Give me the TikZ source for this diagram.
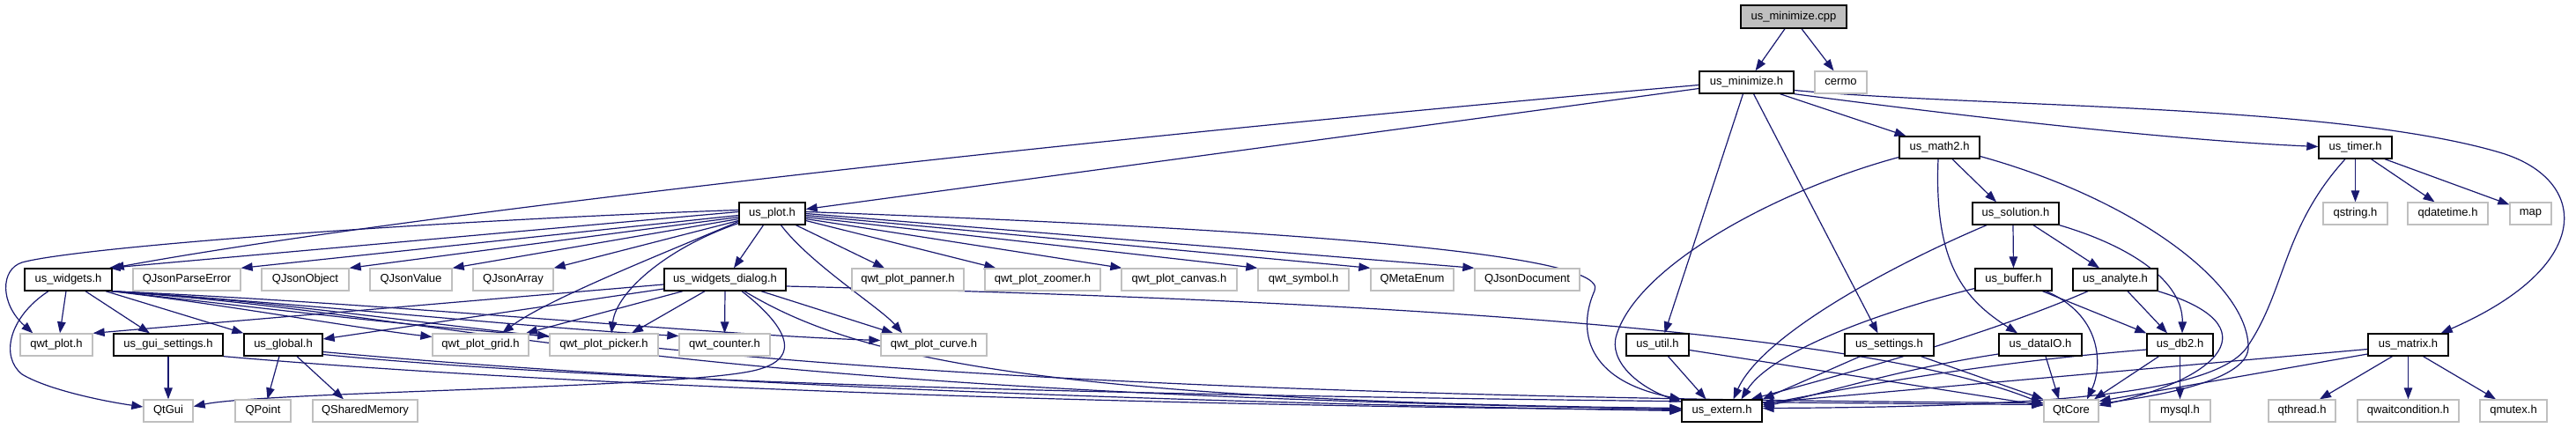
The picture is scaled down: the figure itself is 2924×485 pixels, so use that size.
\documentclass[tikz,border=0pt]{standalone}
\usepackage{fontspec}
\setmainfont{Liberation Sans}
\usetikzlibrary{arrows.meta}
\definecolor{edgec}{HTML}{191970}
\definecolor{grayb}{HTML}{BFBFBF}
\pgfdeclarelayer{bg}
\pgfsetlayers{bg,main}
\begin{document}
\begin{tikzpicture}[x=1pt,y=-1pt,
  file/.style={draw=black,fill=white,line width=1.33pt,minimum height=25pt,inner sep=0pt,font=\fontsize{13}{15}\selectfont},
  ext/.style={file,draw=grayb},
  root/.style={file,fill=grayb},
  bw/.style={minimum width=#1pt},
  e/.style={draw=edgec,line width=1.2pt,-{Triangle[length=13pt,width=9.5pt]}}]
\useasboundingbox (0,0) rectangle (2924,485);
% row 0
\node[root,bw=120,minimum height=26pt] (cpp) at (2036,19) {us\_minimize.cpp};
% row 1
\node[file,bw=107] (minh) at (1982.5,93.5) {us\_minimize.h};
\node[ext,bw=59] (cermo) at (2089.5,93.5) {cermo};
% row 2
\node[file,bw=91] (math2) at (2201.5,167.5) {us\_math2.h};
\node[file,bw=83] (timer) at (2673.5,167.5) {us\_timer.h};
% row 3
\node[file,bw=75] (plot) at (876.5,242.5) {us\_plot.h};
\node[file,bw=98] (solution) at (2288,242.5) {us\_solution.h};
\node[ext,bw=73] (qstring) at (2673.5,242.5) {qstring.h};
\node[ext,bw=91] (qdatetime) at (2778.5,242.5) {qdatetime.h};
\node[ext,bw=47] (map) at (2872.5,242.5) {map};
% row 4
\node[file,bw=99] (widgets) at (77.5,317.5) {us\_widgets.h};
\node[ext,bw=122] (qjpe) at (212,317.5) {QJsonParseError};
\node[ext,bw=99] (qjobj) at (346.5,317.5) {QJsonObject};
\node[ext,bw=93] (qjval) at (466.5,317.5) {QJsonValue};
\node[ext,bw=91] (qjarr) at (582.5,317.5) {QJsonArray};
\node[file,bw=138] (dialog) at (823,317.5) {us\_widgets\_dialog.h};
\node[ext,bw=127] (panner) at (1030.5,317.5) {qwt\_plot\_panner.h};
\node[ext,bw=131] (zoomer) at (1183.5,317.5) {qwt\_plot\_zoomer.h};
\node[ext,bw=131] (canvas) at (1338.5,317.5) {qwt\_plot\_canvas.h};
\node[ext,bw=103] (symbol) at (1479.5,317.5) {qwt\_symbol.h};
\node[ext,bw=94] (metaenum) at (1603,317.5) {QMetaEnum};
\node[ext,bw=119] (qjdoc) at (1733.5,317.5) {QJsonDocument};
\node[file,bw=87] (buffer) at (2285.5,317.5) {us\_buffer.h};
\node[file,bw=96] (analyte) at (2401,317.5) {us\_analyte.h};
% row 5
\node[ext,bw=82] (qwtplot) at (64,391.5) {qwt\_plot.h};
\node[file,bw=124] (guiset) at (191,391.5) {us\_gui\_settings.h};
\node[file,bw=89] (global) at (321.5,391.5) {us\_global.h};
\node[ext,bw=109] (grid) at (545.5,391.5) {qwt\_plot\_grid.h};
\node[ext,bw=123] (picker) at (685.5,391.5) {qwt\_plot\_picker.h};
\node[ext,bw=103] (counter) at (822.5,391.5) {qwt\_counter.h};
\node[ext,bw=120] (curve) at (1060,391.5) {qwt\_plot\_curve.h};
\node[file,bw=71] (util) at (1881.5,391.5) {us\_util.h};
\node[file,bw=101] (settings) at (2144.5,391.5) {us\_settings.h};
\node[file,bw=94] (dataio) at (2316,391.5) {us\_dataIO.h};
\node[file,bw=75] (db2) at (2474.5,391.5) {us\_db2.h};
\node[file,bw=91] (matrix) at (2733.5,391.5) {us\_matrix.h};
% row 6
\node[ext,bw=56] (qtgui) at (191,466.5) {QtGui};
\node[ext,bw=63] (qpoint) at (298.5,466.5) {QPoint};
\node[ext,bw=119] (qshm) at (414.5,466.5) {QSharedMemory};
\node[file,bw=91] (extern) at (1954.5,466.5) {us\_extern.h};
\node[ext,bw=62] (qtcore) at (2351,466.5) {QtCore};
\node[ext,bw=69] (mysql) at (2474.5,466.5) {mysql.h};
\node[ext,bw=76] (qthread) at (2613,466.5) {qthread.h};
\node[ext,bw=115] (qwait) at (2733.5,466.5) {qwaitcondition.h};
\node[ext,bw=76] (qmutex) at (2853,466.5) {qmutex.h};

\begin{pgfonlayer}{bg}
% us_minimize.cpp
\draw[e] ([xshift=-10pt]cpp.south) -- ([xshift=10pt]minh.north);
\draw[e] ([xshift=9pt]cpp.south) -- ([xshift=-8pt]cermo.north);
% us_minimize.h
\draw[e] ([yshift=-7pt]minh.west) -- ([yshift=5pt]plot.east);
\draw[e] ([yshift=-3pt]minh.west) .. controls (1200,160) and (450,245) .. (widgets.north east);
\draw[e] ([xshift=38pt]minh.south) -- ([xshift=-38pt]math2.north);
\draw[e] (minh.south east) .. controls (2250,135) and (2480,160) .. ([yshift=1pt]timer.west);
\draw[e] ([yshift=-9pt]minh.east) .. controls (2250,122) and (2650,118) .. (2837,173) .. controls (2937,202) and (2950,300) .. ([xshift=-9pt]matrix.north east);
\draw[e] ([xshift=-4pt]minh.south) -- ([xshift=8pt]util.north);
\draw[e] ([xshift=8pt]minh.south) -- ([xshift=-13pt]settings.north);
% us_plot.h
\draw[e] ([yshift=2pt]plot.west) -- ([xshift=-4pt]widgets.north east);
\draw[e] ([yshift=-2pt]plot.west) -- (qjpe.north east);
\draw[e] ([yshift=-4pt]plot.west) -- (qjobj.north east);
\draw[e] ([yshift=-6pt]plot.west) -- (qjval.north east);
\draw[e] ([yshift=-8pt]plot.west) -- (qjarr.north east);
\draw[e] ([yshift=4pt]plot.west) .. controls (500,250) and (90,280) .. (25,298) .. controls (0,306) and (0,345) .. ([xshift=15pt]qwtplot.north west);
\draw[e] ([xshift=-10pt]plot.south) -- ([xshift=10pt]dialog.north);
\draw[e] ([yshift=-9pt]plot.west) .. controls (760,285) and (620,340) .. ([xshift=24.5pt]grid.north);
\draw[e] ([yshift=-11pt]plot.west) .. controls (760,280) and (700,330) .. ([xshift=8.5pt]picker.north);
\draw[e] ([xshift=10pt]plot.south) .. controls (920,300) and (1000,350) .. ([xshift=-36pt]curve.north);
\draw[e] ([xshift=27pt]plot.south) -- ([xshift=-26.5pt]panner.north);
\draw[e] ([yshift=-8pt]plot.east) -- ([xshift=13pt]zoomer.north west);
\draw[e] ([yshift=-6pt]plot.east) -- ([xshift=1pt]canvas.north west);
\draw[e] ([yshift=-4pt]plot.east) -- (symbol.north west);
\draw[e] ([yshift=-2pt]plot.east) -- (metaenum.north west);
\draw[e] (plot.east) -- (qjdoc.north west);
\draw[e] ([yshift=2pt]plot.east) .. controls (1400,258) and (1830,285) .. (1810,330) .. controls (1790,375) and (1800,432) .. (extern.north west);
% us_widgets.h
\draw[e] ([xshift=-2.5pt]widgets.south) -- ([xshift=4pt]qwtplot.north);
\draw[e] ([xshift=19.5pt]widgets.south) -- ([xshift=-21pt]guiset.north);
\draw[e] ([xshift=42.5pt]widgets.south) -- (global.north west);
\draw[e] ([xshift=-22.5pt]widgets.south) .. controls (10,360) and (0,405) .. (25,425) .. controls (55,443) and (120,456) .. ([yshift=4.5pt]qtgui.west);
\draw[e] ([xshift=-1pt]widgets.south east) .. controls (250,345) and (400,372) .. ([yshift=9pt]grid.west);
\draw[e] (widgets.south east) .. controls (300,350) and (480,372) .. ([yshift=10pt]picker.west);
\draw[e] (widgets.south east) .. controls (350,345) and (600,372) .. ([yshift=10pt]counter.west);
\draw[e] (widgets.south east) .. controls (450,345) and (800,380) .. ([yshift=5pt]curve.west);
\draw[e] ([xshift=-2pt]widgets.south east) .. controls (550,360) and (700,445) .. ([yshift=2pt]extern.west);
\draw[e] ([xshift=-1pt]widgets.south east) .. controls (550,355) and (750,448) .. ([yshift=9pt]qtcore.west);
% us_widgets_dialog.h
\draw[e] ([yshift=-5.5pt]dialog.west) -- (qwtplot.north east);
\draw[e] ([yshift=-10.5pt]dialog.west) -- ([yshift=6.5pt]global.east);
\draw[e] ([xshift=-48pt]dialog.south) -- ([xshift=51.5pt]grid.north);
\draw[e] ([xshift=-23pt]dialog.south) -- ([xshift=31.5pt]picker.north);
\draw[e] (dialog.south) -- (counter.north);
\draw[e] ([xshift=41pt]dialog.south) -- ([xshift=-46pt]curve.north);
\draw[e] ([xshift=19pt]dialog.south) .. controls (880,360) and (925,408) .. (850,422) .. controls (750,441) and (300,445) .. ([yshift=5pt]qtgui.east);
\draw[e] ([xshift=22pt]dialog.south) .. controls (960,400) and (1150,455) .. ([yshift=3pt]extern.west);
\draw[e] ([yshift=-7.5pt]dialog.east) .. controls (1500,340) and (2100,370) .. ([yshift=8pt]qtcore.west);
% us_gui_settings.h
\draw[e] (guiset.south) -- (qtgui.north);
\draw[e] (guiset.south east) .. controls (600,435) and (1200,460) .. ([yshift=1pt]extern.west);
% us_global.h
\draw[e] ([xshift=-4.5pt]global.south) -- ([xshift=5pt]qpoint.north);
\draw[e] ([xshift=15.5pt]global.south) -- ([xshift=-24.5pt]qshm.north);
\draw[e] ([yshift=-8pt]global.east) .. controls (700,430) and (1200,455) .. (extern.west);
\draw[e] ([yshift=-11pt]global.east) .. controls (700,435) and (1300,452) .. ([yshift=7pt]qtcore.west);
% us_math2.h
\draw[e] ([xshift=14.5pt]math2.south) -- ([xshift=-22pt]solution.north);
\draw[e] ([xshift=-1.5pt]math2.south) .. controls (2195,300) and (2230,340) .. ([xshift=-26pt]dataio.north);
\draw[e] ([yshift=-11pt]math2.west) .. controls (2020,215) and (1860,300) .. (1835,380) .. controls (1825,410) and (1860,440) .. ([yshift=-3pt]extern.north west);
\draw[e] ([yshift=-10pt]math2.east) .. controls (2420,225) and (2550,320) .. (2552,393) .. controls (2554,430) and (2460,448) .. ([yshift=8pt]qtcore.east);
% us_solution.h
\draw[e] ([xshift=-3pt]solution.south) -- (buffer.north);
\draw[e] ([xshift=20pt]solution.south) -- ([xshift=-18pt]analyte.north);
\draw[e] (solution.south east) .. controls (2420,280) and (2478,320) .. ([xshift=2.5pt]db2.north);
\draw[e] ([xshift=-33pt]solution.south) .. controls (2150,300) and (2000,380) .. ([xshift=13pt]extern.north);
% us_buffer.h
\draw[e] ([yshift=-10pt]buffer.west) .. controls (2130,355) and (2010,400) .. ([xshift=22pt]extern.north);
\draw[e] ([xshift=33pt]buffer.south) -- (db2.north west);
\draw[e] ([xshift=37pt]buffer.south) .. controls (2390,360) and (2385,420) .. ([xshift=18pt]qtcore.north);
% us_analyte.h
\draw[e] ([xshift=14pt]analyte.south) -- ([xshift=-14.5pt]db2.north);
\draw[e] ([xshift=-31pt]analyte.south) .. controls (2280,370) and (2150,410) .. ([xshift=33pt]extern.north);
\draw[e] (analyte.south east) .. controls (2580,370) and (2520,430) .. ([yshift=6pt]qtcore.east);
% us_db2.h
\draw[e] ([yshift=-5.5pt]db2.west) .. controls (2250,412) and (2100,440) .. ([yshift=7pt]extern.east);
\draw[e] ([xshift=-24pt]db2.south) -- ([xshift=26pt]qtcore.north);
\draw[e] (db2.south) -- (mysql.north);
% us_dataIO.h
\draw[e] ([yshift=-10.5pt]dataio.west) .. controls (2150,420) and (2060,450) .. ([yshift=5pt]extern.east);
\draw[e] ([xshift=6pt]dataio.south) -- ([xshift=-14pt]qtcore.north);
% us_settings.h
\draw[e] ([xshift=-33pt]settings.south) -- (extern.north east);
\draw[e] ([xshift=36pt]settings.south) -- (qtcore.north west);
% us_util.h
\draw[e] ([xshift=12pt]util.south) -- ([xshift=-18pt]extern.north);
\draw[e] ([yshift=-6pt]util.east) -- ([yshift=6pt]qtcore.west);
% us_timer.h
\draw[e] (timer.south) -- (qstring.north);
\draw[e] ([xshift=18pt]timer.south) -- ([xshift=-15pt]qdatetime.north);
\draw[e] ([xshift=33.5pt]timer.south) -- ([yshift=-3pt]map.north west);
\draw[e] ([xshift=-11.5pt]timer.south) .. controls (2590,260) and (2595,330) .. (2550,395) .. controls (2510,450) and (2300,462) .. ([yshift=3pt]extern.east);
% us_matrix.h
\draw[e] ([yshift=-5pt]matrix.west) -- ([yshift=9pt]extern.east);
\draw[e] ([yshift=-10.5pt]matrix.west) -- ([yshift=11pt]qtcore.east);
\draw[e] ([xshift=-18pt]matrix.south) -- ([xshift=20pt]qthread.north);
\draw[e] (matrix.south) -- (qwait.north);
\draw[e] ([xshift=17pt]matrix.south) -- ([xshift=-20pt]qmutex.north);
\end{pgfonlayer}
\end{tikzpicture}
\end{document}
